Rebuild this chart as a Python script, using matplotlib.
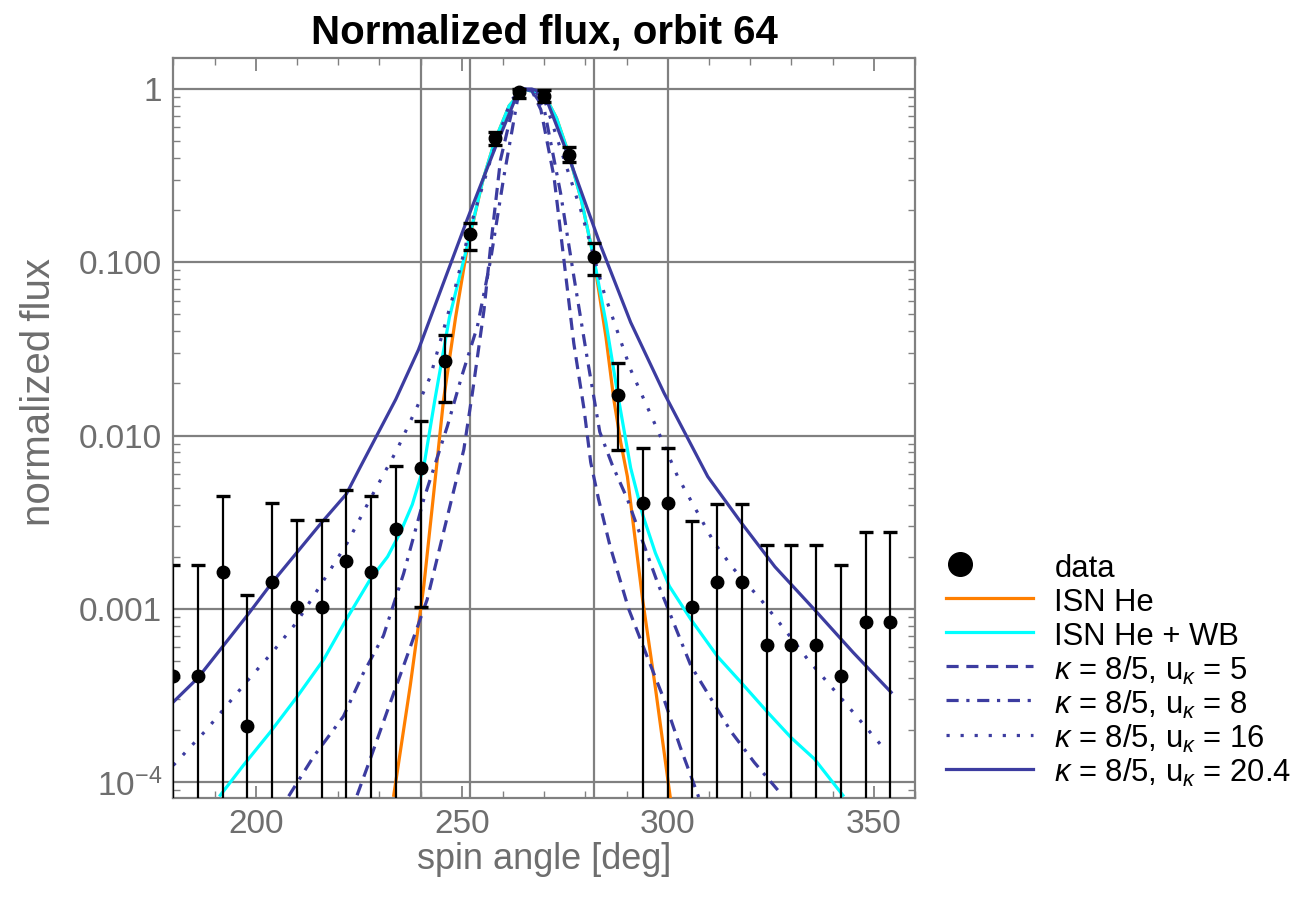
import matplotlib
matplotlib.use("Agg")
import matplotlib.pyplot as plt
from matplotlib.ticker import FixedLocator, NullFormatter, LogLocator
from matplotlib.lines import Line2D
from matplotlib.legend_handler import HandlerLine2D

plt.rcParams['font.family'] = ['Liberation Sans', 'DejaVu Sans']
plt.rcParams['mathtext.fontset'] = 'custom'
plt.rcParams['mathtext.rm'] = 'Liberation Sans'
plt.rcParams['mathtext.it'] = 'Liberation Sans:italic'

# ---------------- data ----------------
angles = [180, 186, 192, 198, 204, 210, 216, 222, 228, 234, 240, 246, 252, 258, 264,
          270, 276, 282, 288, 294, 300, 306, 312, 318, 324, 330, 336, 342, 348, 354]
flux = [4.1e-4, 4.1e-4, 1.64e-3, 2.1e-4, 1.43e-3, 1.03e-3, 1.03e-3, 1.89e-3, 1.64e-3, 2.9e-3,
        6.5e-3, 0.0268, 0.146, 0.52, 0.955, 0.915, 0.417, 0.107, 0.0172, 4.06e-3,
        4.06e-3, 1.03e-3, 1.43e-3, 1.43e-3, 6.2e-4, 6.2e-4, 6.2e-4, 4.1e-4, 8.4e-4, 8.4e-4]
flux_hi = [1.8e-3, 1.8e-3, 4.47e-3, 1.2e-3, 4.06e-3, 3.25e-3, 3.25e-3, 4.84e-3, 4.47e-3, 6.65e-3,
           0.0122, 0.0382, 0.168, 0.567, 1.0, 0.987, 0.465, 0.130, 0.0262, 8.5e-3,
           8.5e-3, 3.21e-3, 4.03e-3, 4.03e-3, 2.33e-3, 2.33e-3, 2.33e-3, 1.8e-3, 2.79e-3, 2.79e-3]
flux_lo = [1e-7, 1e-7, 1e-7, 1e-7, 1e-7, 1e-7, 1e-7, 1e-7, 1e-7, 1e-7,
           1.02e-3, 0.0156, 0.118, 0.476, 0.89, 0.845, 0.381, 0.0847, 8.3e-3, 1e-7,
           1e-7, 1e-7, 1e-7, 1e-7, 1e-7, 1e-7, 1e-7, 1e-7, 1e-7, 1e-7]

isn_ang = [233.5, 237.5, 240.8, 243.0, 245.6, 248.5, 251.3, 255.0, 258.0, 261.5, 265.0,
           270.0, 273.0, 276.0, 279.0, 282.0, 285.0, 286.9, 288.6, 290.2, 293.9, 297.0, 300.1, 300.6]
isn_val = [8.4e-5, 3.6e-4, 1.36e-3, 4.2e-3, 0.0162, 0.048, 0.12, 0.29, 0.5, 0.8, 1.0,
           0.93, 0.68, 0.42, 0.23, 0.107, 0.037, 0.0162, 9.1e-3, 5.8e-3, 1.13e-3, 3.5e-4, 1.0e-4, 8.2e-5]

wb_ang = [191.4, 197.0, 203.5, 210.0, 216.5, 222.0, 227.8, 232.0, 235.1, 238.0, 240.8, 243.5,
          247.0, 251.3, 255.0, 258.0, 261.5, 265.0, 270.0, 273.0, 276.0, 279.0, 282.0, 285.0,
          287.8, 291.0, 293.9, 297.0, 300.4, 305.6, 312.1, 317.8, 324.3, 330.0, 335.6, 342.5]
wb_val = [8.4e-5, 1.25e-4, 1.94e-4, 3.1e-4, 5.1e-4, 8.7e-4, 1.48e-3, 2.0e-3, 2.76e-3, 4.0e-3, 6.65e-3, 0.0162,
          0.048, 0.123, 0.29, 0.5, 0.8, 1.0, 0.93, 0.68, 0.42, 0.23, 0.107, 0.045,
          0.0176, 6.5e-3, 3.5e-3, 2.1e-3, 1.35e-3, 8.7e-4, 5.3e-4, 3.76e-4, 2.52e-4, 1.8e-4, 1.36e-4, 8.4e-5]

k5_ang = [224.6, 227.8, 232.0, 235.9, 241.6, 246.5, 250.5, 252.6, 255.4, 257.0, 259.4, 263.0, 265.0,
          267.0, 269.2, 272.4, 274.8, 277.2, 279.7, 281.3, 283.2, 286.0, 290.5, 295.0, 299.1, 303.0, 307.5]
k5_val = [8.4e-5, 1.36e-4, 2.6e-4, 4.7e-4, 1.13e-3, 3.4e-3, 8.3e-3, 0.0177, 0.053, 0.123, 0.39, 0.9, 1.0,
          0.98, 0.76, 0.31, 0.103, 0.034, 0.0141, 7.0e-3, 4.3e-3, 2.3e-3, 1.0e-3, 5.3e-4, 3.0e-4, 1.6e-4, 8.2e-5]

k8_ang = [208.0, 214.0, 221.3, 226.0, 231.0, 235.9, 240.8, 246.5, 250.0, 253.8, 257.0, 260.2, 263.5, 265.0,
          267.0, 270.0, 274.0, 277.2, 280.5, 283.5, 286.5, 290.2, 297.5, 305.6, 315.4, 321.0, 326.7]
k8_val = [8.3e-5, 1.4e-4, 2.4e-4, 4.2e-4, 7.0e-4, 1.6e-3, 4.3e-3, 0.0113, 0.022, 0.0427, 0.103, 0.31, 0.86, 1.0,
          0.98, 0.77, 0.25, 0.083, 0.0275, 0.0105, 6.8e-3, 4.3e-3, 1.42e-3, 4.7e-4, 1.95e-4, 1.3e-4, 9.0e-5]

k16_ang = [180.0, 188.0, 197.8, 204.0, 210.0, 216.0, 222.2, 228.0, 234.3, 239.2, 242.4, 248.1, 252.1,
           257.0, 261.9, 265.0, 267.0, 270.0, 274.0, 278.9, 284.6, 291.0, 297.5, 302.4, 311.3, 316.0,
           322.6, 328.0, 334.0, 343.7, 352.6]
k16_val = [1.25e-4, 2.0e-4, 3.8e-4, 5.6e-4, 8.4e-4, 1.4e-3, 2.4e-3, 4.4e-3, 8.3e-3, 0.0147, 0.022, 0.0665, 0.161,
           0.39, 0.86, 1.0, 0.99, 0.88, 0.45, 0.2, 0.066, 0.024, 0.0108, 5.8e-3, 2.4e-3, 1.7e-3,
           1.13e-3, 7.8e-4, 5.1e-4, 2.75e-4, 1.55e-4]

k204_ang = [180.0, 186.0, 198.0, 204.0, 216.0, 222.0, 225.4, 234.0, 239.5, 245.0, 251.3, 258.0, 264.0,
            267.0, 270.0, 276.4, 283.7, 291.0, 299.1, 309.7, 317.8, 326.0, 335.6, 345.0, 354.2]
k204_val = [2.9e-4, 4.0e-4, 9.2e-4, 1.42e-3, 3.15e-3, 4.6e-3, 6.6e-3, 0.0162, 0.0313, 0.07, 0.176, 0.45, 1.0,
            1.0, 0.945, 0.38, 0.125, 0.045, 0.0176, 5.8e-3, 3.15e-3, 1.75e-3, 9.9e-4, 5.6e-4, 3.3e-4]

ytick_vals = [1e-4, 1e-3, 1e-2, 1e-1, 1]
ytick_labels = ['$10^{-4}$', '0.001', '0.010', '0.100', '1']
xtick_vals = [200, 250, 300, 350]
vgrid = [240, 252, 282, 300]

legend_labels = ['data', 'ISN He', 'ISN He + WB',
                 r'$\mathit{\kappa}$ = 8/5, u$_{\mathit{\kappa}}$ = 5',
                 r'$\mathit{\kappa}$ = 8/5, u$_{\mathit{\kappa}}$ = 8',
                 r'$\mathit{\kappa}$ = 8/5, u$_{\mathit{\kappa}}$ = 16',
                 r'$\mathit{\kappa}$ = 8/5, u$_{\mathit{\kappa}}$ = 20.4']

# ---------------- style ----------------
ORANGE = '#FF7F00'
CYAN = '#00FFFF'
BLUE = '#3C3CA0'
GRAY = '#808080'
TXT = '#6E6E6E'

fig = plt.figure(figsize=(13.13, 8.99), dpi=100)
ax = fig.add_axes([173.3/1313, 1 - 798/899, (915 - 173.3)/1313, (798 - 57.5)/899])

ax.set_yscale('log')
ax.set_xlim(180, 360)
ax.set_ylim(8.1e-5, 1.52)

for v in ytick_vals:
    ax.axhline(v, color=GRAY, lw=1.6, zorder=1)
for v in vgrid:
    ax.axvline(v, color=GRAY, lw=1.6, zorder=1)

lw = 2.3
DASH = (0, (3.8, 2.4))
DASHDOT = (0, (3.8, 2.4, 1.0, 2.4))
DOT = (0, (1.0, 3.4))
ax.plot(isn_ang, isn_val, color=ORANGE, lw=lw, zorder=3)
ax.plot(wb_ang, wb_val, color=CYAN, lw=lw, zorder=3)
ax.plot(k5_ang, k5_val, color=BLUE, lw=lw, ls=DASH, zorder=3)
ax.plot(k8_ang, k8_val, color=BLUE, lw=lw, ls=DASHDOT, zorder=3)
ax.plot(k16_ang, k16_val, color=BLUE, lw=lw, ls=DOT, zorder=3)
ax.plot(k204_ang, k204_val, color=BLUE, lw=lw, zorder=3)

yerr = [[f - l for f, l in zip(flux, flux_lo)], [h - f for f, h in zip(flux, flux_hi)]]
ax.errorbar(angles, flux, yerr=yerr, fmt='o', color='black', ms=9, elinewidth=1.6,
            capsize=5, capthick=2.4, zorder=4)

ax.set_yticks(ytick_vals)
ax.set_yticklabels(ytick_labels)
ax.yaxis.set_minor_locator(LogLocator(base=10, subs=range(2, 10)))
ax.yaxis.set_minor_formatter(NullFormatter())
ax.set_xticks(xtick_vals)
ax.xaxis.set_minor_locator(FixedLocator(list(range(180, 361, 10))))
ax.tick_params(which='both', direction='in', top=True, right=True, color=GRAY,
               labelcolor=TXT, labelsize=24)
ax.tick_params(which='major', length=9, width=1.3, pad=8)
ax.tick_params(which='minor', length=5, width=1.0)
for s in ax.spines.values():
    s.set_color(GRAY)
    s.set_linewidth(1.6)

ax.set_xlabel('spin angle [deg]', fontsize=26, color=TXT, labelpad=1.5)
ax.set_ylabel('normalized\u2009flux', fontsize=29, color=TXT)
ax.yaxis.set_label_coords(-0.155, 0.548)
ax.set_title('Normalized flux, orbit 64', fontsize=29, fontweight='bold', pad=10)


class LeftMarkerHandler(HandlerLine2D):
    def create_artists(self, legend, orig_handle, xdescent, ydescent, width, height,
                       fontsize, trans):
        artists = super().create_artists(legend, orig_handle, xdescent, ydescent,
                                         width, height, fontsize, trans)
        for a in artists:
            if a.get_marker() not in (None, 'None', ''):
                a.set_xdata([-xdescent + 0.16 * width])
        return artists


handles = [
    Line2D([], [], marker='o', color='black', ls='none', ms=17),
    Line2D([], [], color=ORANGE, lw=lw),
    Line2D([], [], color=CYAN, lw=lw),
    Line2D([], [], color=BLUE, lw=lw, ls=DASH),
    Line2D([], [], color=BLUE, lw=lw, ls=DASHDOT),
    Line2D([], [], color=BLUE, lw=lw, ls=DOT),
    Line2D([], [], color=BLUE, lw=lw),
]
fig.legend(handles, legend_labels, loc='upper left', bbox_to_anchor=(946/1313, 1 - 551/899),
           frameon=False, fontsize=22.3, handlelength=2.8, handletextpad=0.7,
           labelspacing=0.02, handleheight=1.21, borderaxespad=0, borderpad=0,
           handler_map={handles[0]: LeftMarkerHandler()})

fig.savefig('out.png', dpi=100)
